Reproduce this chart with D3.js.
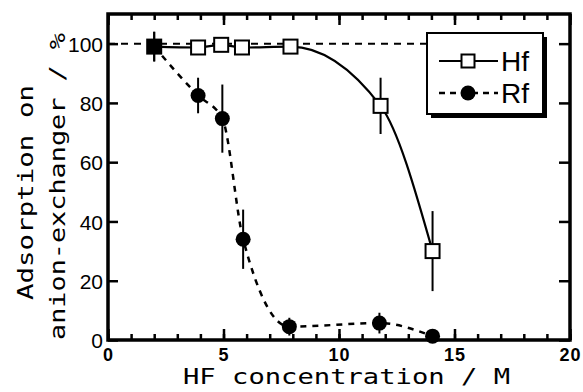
<!DOCTYPE html>
<html><head><meta charset="utf-8">
<script src="https://cdn.jsdelivr.net/npm/d3@7"></script>
<style>body{margin:0;background:#fff}svg{display:block}</style>
</head><body><svg id="c" width="583" height="392"></svg>
<script>
// Data
const hfX = [2, 3.9, 4.9, 5.8, 7.9, 11.8, 14.05];
const hfY = [99, 98.7, 99.6, 98.7, 99, 79, 30];
const hfErr = [5, 0, 0, 0, 0, 9.5, 13.5];
const rfX = [2, 3.9, 4.95, 5.85, 7.85, 11.75, 14.05];
const rfY = [99, 82.5, 74.7, 34, 4.5, 5.7, 1.3];
const rfErr = [5, 6, 11.5, 10, 3, 3.5, 0];
const refX = [0, 19];
const refY = [100, 100];
const xTickLabels = [0, 5, 10, 15, 20];
const yTickLabels = [0, 20, 40, 60, 80, 100];
const xTitle = "HF concentration / M";
const yTitle1 = "Adsorption on";
const yTitle2 = "anion-exchanger / %";
const legendNames = ["Hf", "Rf"];

(function () {
const svg = d3.select("#c");
const x = d3.scaleLinear().domain([0, 20]).range([108, 570]);
const y = d3.scaleLinear().domain([0, 110]).range([340, 14]);

const g = svg.append("g");
const minorX = d3.range(0, 21, 1);

const axBottom = g.append("g").attr("transform", `translate(0,${y(0)})`)
  .call(d3.axisBottom(x).tickValues(minorX).tickSizeInner(-6).tickSizeOuter(0).tickFormat(""));
const axBottomMaj = g.append("g").attr("transform", `translate(0,${y(0)})`)
  .call(d3.axisBottom(x).tickValues(xTickLabels).tickSizeInner(-11).tickSizeOuter(0).tickPadding(8).tickFormat(d3.format("d")));
const axTop = g.append("g").attr("transform", `translate(0,${y(110)})`)
  .call(d3.axisTop(x).tickValues(minorX).tickSizeInner(-6).tickSizeOuter(0).tickFormat(""));
const axTopMaj = g.append("g").attr("transform", `translate(0,${y(110)})`)
  .call(d3.axisTop(x).tickValues(xTickLabels).tickSizeInner(-11).tickSizeOuter(0).tickFormat(""));
const axLeft = g.append("g").attr("transform", `translate(${x(0)},0)`)
  .call(d3.axisLeft(y).tickValues(yTickLabels).tickSizeInner(-10).tickSizeOuter(0).tickPadding(5).tickFormat(d3.format("d")));
const axRight = g.append("g").attr("transform", `translate(${x(20)},0)`)
  .call(d3.axisRight(y).tickValues(yTickLabels).tickSizeInner(-11).tickSizeOuter(0).tickFormat(""));

[axBottom, axBottomMaj, axTop, axTopMaj, axLeft, axRight].forEach(a => {
  a.select(".domain").remove();
  a.selectAll(".tick line").attr("stroke", "#000").attr("stroke-width", 2.5);
});
g.append("rect").attr("x", x(0)).attr("y", y(110)).attr("width", x(20) - x(0)).attr("height", y(0) - y(110))
  .attr("fill", "none").attr("stroke", "#000").attr("stroke-width", 3.5);

axBottomMaj.selectAll(".tick text").attr("font-family", "Liberation Sans, Arial, sans-serif")
  .attr("font-weight", "bold").attr("font-size", 18).attr("fill", "#000").attr("letter-spacing", 1);
axLeft.selectAll(".tick text").attr("font-family", "Liberation Sans, Arial, sans-serif")
  .attr("font-size", 21).attr("fill", "#000").attr("dy", "0.36em");

// Axis titles
g.append("text").attr("x", 183).attr("y", 384).attr("font-family", "DejaVu Sans Mono, monospace")
  .attr("font-size", 21).attr("textLength", 327).attr("lengthAdjust", "spacingAndGlyphs").text(xTitle);
g.append("text").attr("transform", "translate(33,300) rotate(-90)").attr("font-family", "DejaVu Sans Mono, monospace")
  .attr("font-size", 22).attr("textLength", 215).attr("lengthAdjust", "spacingAndGlyphs").text(yTitle1);
g.append("text").attr("transform", "translate(65,340) rotate(-90)").attr("font-family", "DejaVu Sans Mono, monospace")
  .attr("font-size", 22).attr("textLength", 307).attr("lengthAdjust", "spacingAndGlyphs").text(yTitle2);

// Reference dashed line
g.append("path").datum(refX.map((d, i) => [d, refY[i]]))
  .attr("d", d3.line().x(d => x(d[0])).y(d => y(d[1])))
  .attr("fill", "none").attr("stroke", "#000").attr("stroke-width", 2).attr("stroke-dasharray", "7,6");

const hf = hfX.map((d, i) => ({x: d, y: hfY[i], e: hfErr[i]}));
const rf = rfX.map((d, i) => ({x: d, y: rfY[i], e: rfErr[i]}));

g.append("path").datum(hf).attr("d", d3.line().x(d => x(d.x)).y(d => y(d.y)).curve(d3.curveMonotoneX))
  .attr("fill", "none").attr("stroke", "#000").attr("stroke-width", 2.2);
g.append("path").datum(rf).attr("d", d3.line().x(d => x(d.x)).y(d => y(d.y)).curve(d3.curveMonotoneX))
  .attr("fill", "none").attr("stroke", "#000").attr("stroke-width", 2.5).attr("stroke-dasharray", "6,6");

[hf, rf].forEach(s => {
  g.selectAll(null).data(s.filter(d => d.e > 0)).join("line")
    .attr("x1", d => x(d.x)).attr("x2", d => x(d.x))
    .attr("y1", d => y(d.y + d.e)).attr("y2", d => y(d.y - d.e))
    .attr("stroke", "#000").attr("stroke-width", 2);
});

// Where an Hf and an Rf point coincide, the overlapping marker prints as a filled square
const coincide = d => rf.some(r => r.x === d.x && Math.abs(r.y - d.y) < 2);
const sq = 14;
g.selectAll(null).data(rf.filter(r => !hf.some(h => h.x === r.x && Math.abs(r.y - h.y) < 2))).join("circle")
  .attr("cx", d => x(d.x)).attr("cy", d => y(d.y)).attr("r", 7.5).attr("fill", "#000");
g.selectAll(null).data(hf).join("rect")
  .attr("x", d => x(d.x) - sq / 2).attr("y", d => y(d.y) - sq / 2).attr("width", sq).attr("height", sq)
  .attr("fill", d => coincide(d) ? "#000" : "#fff").attr("stroke", "#000").attr("stroke-width", 2);

// Legend
const lg = g.append("g");
lg.append("rect").attr("x", 431).attr("y", 37).attr("width", 116).attr("height", 81).attr("fill", "#000");
lg.append("rect").attr("x", 427).attr("y", 33).attr("width", 116).attr("height", 81)
  .attr("fill", "#fff").attr("stroke", "#000").attr("stroke-width", 2);
const rows = [61, 93];
lg.append("line").attr("x1", 439).attr("x2", 498).attr("y1", rows[0]).attr("y2", rows[0]).attr("stroke", "#000").attr("stroke-width", 2.2);
lg.append("rect").attr("x", 468 - 6.5).attr("y", rows[0] - 6.5).attr("width", 13).attr("height", 13)
  .attr("fill", "#fff").attr("stroke", "#000").attr("stroke-width", 2);
lg.append("line").attr("x1", 439).attr("x2", 498).attr("y1", rows[1]).attr("y2", rows[1]).attr("stroke", "#000")
  .attr("stroke-width", 2.5).attr("stroke-dasharray", "6,5");
lg.append("circle").attr("cx", 468).attr("cy", rows[1]).attr("r", 7.5).attr("fill", "#000");
legendNames.forEach((n, i) => {
  lg.append("text").attr("x", 501).attr("y", rows[i] + 10).attr("font-family", "Liberation Sans, Arial, sans-serif")
    .attr("font-size", 28).text(n);
});
})();
</script></body></html>
